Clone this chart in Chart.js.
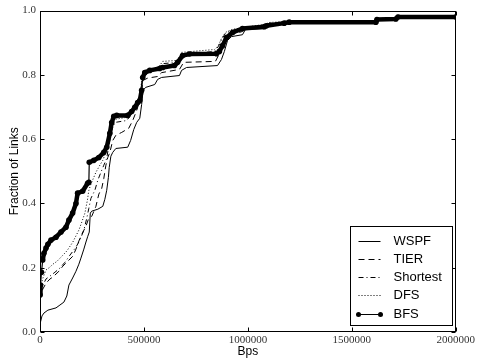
<!DOCTYPE html>
<html><head><meta charset="utf-8">
<script src="https://cdn.jsdelivr.net/npm/chart.js@4.4.1/dist/chart.umd.min.js"></script>
<style>html,body{margin:0;padding:0;background:#fff}canvas{display:block}</style>
</head><body>
<canvas id="c" width="477" height="359"></canvas>
<script>
const seriesNames = ['WSPF', 'TIER', 'Shortest', 'DFS', 'BFS'];
const xTicks = [0, 500000, 1000000, 1500000, 2000000];
const yTicks = [0, 0.2, 0.4, 0.6, 0.8, 1.0];

const wspfX = [0,2400,9600,19000,38000,77000,96000,115000,129000,139000,157000,173000,187000,197000,211000,221000,230000,237000,242000,249000,278000,302000,312000,321000,329000,333000,341000,350000,365000,422000,436000,451000,465000,480000,489000,496000,508000,552000,566000,585000,671000,681000,705000,854000,873000,887000,902000,921000,974000,988000,1084000,1103000,1175000,1199000,1616000,1621000,1712000,1722000,2000000];
const wspfY = [0,0.031,0.05,0.059,0.068,0.075,0.084,0.093,0.112,0.146,0.168,0.189,0.211,0.23,0.258,0.28,0.298,0.311,0.37,0.376,0.382,0.391,0.413,0.441,0.481,0.512,0.547,0.559,0.571,0.575,0.596,0.63,0.652,0.665,0.708,0.752,0.761,0.77,0.786,0.792,0.798,0.814,0.823,0.829,0.848,0.873,0.907,0.919,0.925,0.941,0.944,0.953,0.96,0.964,0.964,0.972,0.974,0.98,0.98];

const tierX = [0,4800,14000,29000,48000,62000,91000,110000,129000,158000,173000,187000,201000,221000,233000,249000,269000,283000,297000,307000,317000,326000,336000,350000,365000,393000,427000,446000,465000,480000,489000,496000,518000,566000,585000,671000,691000,844000,863000,883000,897000,921000,974000,993000,1084000,1103000,1185000,1199000,1616000,1621000,1712000,1722000,2000000];
const tierY = [0.1,0.121,0.134,0.152,0.165,0.171,0.189,0.205,0.217,0.236,0.258,0.283,0.304,0.329,0.351,0.36,0.391,0.429,0.447,0.478,0.519,0.543,0.559,0.596,0.612,0.621,0.634,0.658,0.689,0.72,0.752,0.783,0.79,0.795,0.807,0.817,0.839,0.842,0.866,0.894,0.916,0.925,0.935,0.944,0.947,0.957,0.963,0.964,0.964,0.972,0.974,0.98,0.98];

const shortestX = [0,4800,14000,29000,48000,72000,96000,120000,144000,173000,192000,211000,225000,235000,245000,264000,278000,293000,307000,321000,331000,345000,360000,417000,436000,460000,475000,484000,492000,504000,552000,576000,590000,662000,681000,839000,858000,873000,892000,921000,974000,1079000,1103000,1185000,1616000,1621000,1712000,1722000,2000000];
const shortestY = [0.084,0.121,0.146,0.165,0.174,0.186,0.199,0.217,0.239,0.264,0.286,0.317,0.354,0.385,0.416,0.441,0.472,0.497,0.519,0.54,0.581,0.627,0.652,0.658,0.674,0.696,0.711,0.745,0.789,0.804,0.814,0.826,0.835,0.839,0.863,0.873,0.888,0.91,0.929,0.938,0.944,0.953,0.961,0.964,0.964,0.972,0.974,0.98,0.98];

const dfsX = [0,4800,14000,29000,48000,62000,82000,110000,129000,158000,187000,201000,216000,228000,235000,245000,269000,288000,302000,317000,331000,341000,355000,417000,436000,460000,475000,484000,492000,504000,552000,576000,590000,662000,681000,839000,858000,873000,892000,921000,974000,1079000,1103000,1185000,1607000,1617000,1712000,1722000,2000000];
const dfsY = [0.112,0.146,0.168,0.193,0.202,0.211,0.22,0.239,0.252,0.28,0.317,0.342,0.37,0.41,0.441,0.46,0.497,0.519,0.534,0.559,0.602,0.64,0.661,0.668,0.68,0.702,0.717,0.752,0.798,0.814,0.82,0.829,0.842,0.845,0.87,0.879,0.891,0.913,0.932,0.941,0.947,0.957,0.963,0.966,0.966,0.975,0.978,0.98,0.98];

const bfsX = [0,2400,7200,13000,19000,29000,38000,53000,77000,101000,125000,139000,157000,173000,181000,205000,229000,235000,237000,259000,283000,307000,321000,336000,345000,355000,369000,422000,441000,456000,470000,480000,489000,494000,504000,528000,576000,590000,647000,662000,686000,719000,849000,863000,878000,897000,926000,974000,1079000,1089000,1175000,1199000,1616000,1621000,1712000,1722000,2000000];
const bfsY = [0.115,0.146,0.186,0.224,0.245,0.261,0.273,0.286,0.295,0.311,0.326,0.348,0.37,0.4,0.432,0.438,0.463,0.466,0.528,0.534,0.543,0.559,0.575,0.618,0.652,0.671,0.674,0.674,0.686,0.699,0.714,0.72,0.752,0.792,0.807,0.814,0.82,0.823,0.829,0.839,0.86,0.865,0.866,0.873,0.891,0.916,0.932,0.944,0.95,0.953,0.961,0.964,0.964,0.972,0.974,0.98,0.98];

function pts(xs, ys) { return xs.map((x, i) => ({ x: x, y: ys[i] })); }

const styles = {
  WSPF:     { dash: [], width: 1 },
  TIER:     { dash: [6, 4], width: 1 },
  Shortest: { dash: [5, 3, 1, 3], width: 1 },
  DFS:      { dash: [1, 2], width: 1 },
  BFS:      { dash: [], width: 4.5 }
};

const datasets = [
  { label: 'WSPF', data: pts(wspfX, wspfY), order: 5 },
  { label: 'TIER', data: pts(tierX, tierY), order: 4 },
  { label: 'Shortest', data: pts(shortestX, shortestY), order: 3 },
  { label: 'DFS', data: pts(dfsX, dfsY), order: 2 },
  { label: 'BFS', data: pts(bfsX, bfsY), order: 1 }
].map(d => {
  const s = styles[d.label];
  const o = Object.assign(d, {
    borderColor: '#000', backgroundColor: '#000', borderWidth: s.width,
    borderDash: s.dash, tension: 0, fill: false,
    pointRadius: 0, pointHoverRadius: 0, borderJoinStyle: 'round'
  });
  if (d.label === 'BFS') {
    o.pointRadius = 2.8; o.pointBorderWidth = 0; o.pointBackgroundColor = '#000';
    o.borderCapStyle = 'round';
    o.segment = { borderWidth: c => (Math.abs(c.p1.y - c.p0.y) > 12 && Math.abs(c.p1.x - c.p0.x) < 2) ? 1.2 : 4.5 };
  }
  return o;
});

const framePlugin = {
  id: 'frame',
  afterDraw(chart) {
    const ctx = chart.ctx, a = chart.chartArea;
    const xs = chart.scales.x, ys = chart.scales.y;
    ctx.save();
    ctx.strokeStyle = '#000'; ctx.lineWidth = 1; ctx.setLineDash([]);
    const L = Math.round(a.left) + 0.5, R = Math.round(a.right) - 0.5;
    const T = Math.round(a.top) + 0.5, B = Math.round(a.bottom) - 0.5;
    ctx.beginPath();
    xTicks.forEach(v => {
      const p = Math.round(xs.getPixelForValue(v)) + 0.5;
      ctx.moveTo(p, B); ctx.lineTo(p, B - 4);
      ctx.moveTo(p, T); ctx.lineTo(p, T + 4);
    });
    yTicks.forEach(v => {
      const p = Math.round(ys.getPixelForValue(v)) + 0.5;
      ctx.moveTo(L, p); ctx.lineTo(L + 4, p);
      ctx.moveTo(R, p); ctx.lineTo(R - 4, p);
    });
    ctx.stroke();
    ctx.strokeRect(L, T, R - L, B - T);

    // legend
    const lr = Math.round(a.right) - 3.5, lb = Math.round(a.bottom) - 6.5;
    const ll = lr - 102, lt = lb - 99;
    ctx.fillStyle = '#fff';
    ctx.fillRect(ll, lt, lr - ll, lb - lt);
    ctx.strokeRect(ll, lt, lr - ll, lb - lt);
    ctx.font = '13px "Liberation Sans", Arial, sans-serif';
    ctx.textBaseline = 'middle';
    ctx.textAlign = 'left';
    seriesNames.forEach((name, i) => {
      const y = Math.round(lt + 14 + i * 18.3) + 0.5;
      const x0 = ll + 8, x1 = ll + 30;
      ctx.setLineDash(styles[name].dash);
      ctx.lineWidth = 1;
      ctx.beginPath(); ctx.moveTo(x0, y); ctx.lineTo(x1, y); ctx.stroke();
      ctx.setLineDash([]);
      if (name === 'BFS') {
        ctx.fillStyle = '#000';
        [x0, x1].forEach(px => { ctx.beginPath(); ctx.arc(px, y, 2.5, 0, Math.PI * 2); ctx.fill(); });
      }
      ctx.fillStyle = '#000';
      ctx.fillText(name, ll + 43, y);
    });
    ctx.restore();
  }
};

new Chart(document.getElementById('c'), {
  type: 'line',
  data: { datasets: datasets },
  options: {
    responsive: false, animation: false, devicePixelRatio: 1,
    layout: { padding: { top: 10, right: 20, bottom: 0, left: 0 } },
    plugins: { legend: { display: false }, tooltip: { enabled: false } },
    events: [],
    scales: {
      x: {
        type: 'linear', min: 0, max: 2000000,
        afterBuildTicks: s => { s.ticks = xTicks.map(v => ({ value: v })); },
        ticks: { callback: v => String(v), font: { family: 'Liberation Serif', size: 11 }, color: '#333', padding: 2, maxRotation: 0, autoSkip: false },
        grid: { display: false, drawTicks: false }, border: { display: false },
        title: { display: true, text: 'Bps', font: { family: 'Liberation Sans', size: 12 }, color: '#000', padding: { top: 0, bottom: 0 } },
        afterFit: s => { s.height = 27; }
      },
      y: {
        type: 'linear', min: 0, max: 1,
        afterBuildTicks: s => { s.ticks = yTicks.map(v => ({ value: v })); },
        ticks: { callback: v => Number(v).toFixed(1), font: { family: 'Liberation Serif', size: 11 }, color: '#333', padding: 4 },
        grid: { display: false, drawTicks: false }, border: { display: false },
        title: { display: true, text: 'Fraction of Links', font: { family: 'Liberation Sans', size: 12 }, color: '#000', padding: { top: 7, bottom: 0 } },
        afterFit: s => { s.width = 40; }
      }
    }
  },
  plugins: [framePlugin]
});
</script>
</body></html>
